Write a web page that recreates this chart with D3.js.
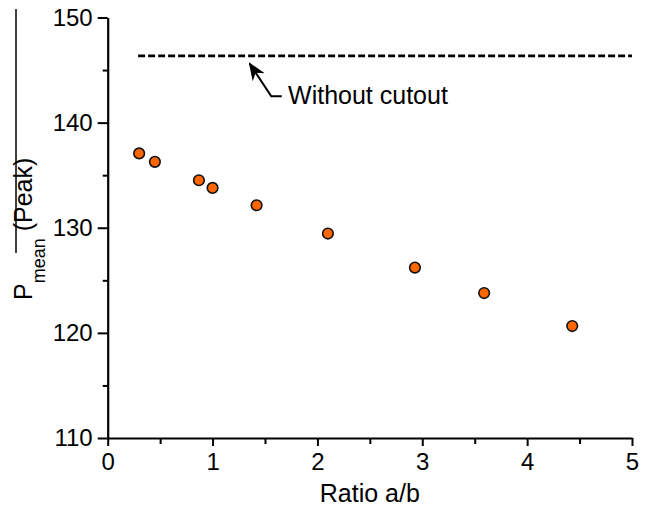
<!DOCTYPE html>
<html>
<head>
<meta charset="utf-8">
<script src="https://cdn.jsdelivr.net/npm/d3@7"></script>
<style>
  body { margin: 0; background: #fff; }
  svg text { font-family: "Liberation Sans", Arial, sans-serif; fill: #000; }
</style>
</head>
<body>
<div id="chart"></div>
<script>
// values
const ratio = [0.3, 0.45, 0.87, 1.0, 1.42, 2.1, 2.93, 3.59, 4.43];
const pMean = [137.07, 136.27, 134.52, 133.79, 132.14, 129.45, 126.21, 123.79, 120.65];
const noCutoutValue = 146.35;
const noCutoutRange = [0.29, 5];
const xTicks = [0, 1, 2, 3, 4, 5];
const xMinorTicks = [0.5, 1.5, 2.5, 3.5, 4.5];
const yTicks = [110, 120, 130, 140, 150];
const yMinorTicks = [115, 125, 135, 145];
const noteLabel = "Without cutout";
// arrow: tip, elbow, tail (data units)
const arrowPts = [[1.355, 145.6], [1.56, 142.5], [1.66, 142.5]];
const notePos = [1.72, 141.8];

const W = 654, H = 506;
const margin = { top: 17.5, right: 22, bottom: 68, left: 107.7 };
const width = W - margin.left - margin.right,
  height = H - margin.top - margin.bottom;

const svg = d3.select("#chart").append("svg")
  .attr("width", W).attr("height", H);

const g = svg.append("g")
  .attr("transform", "translate(" + margin.left + "," + margin.top + ")");

const x = d3.scaleLinear().domain([0, 5]).range([0, width]);
const y = d3.scaleLinear().domain([110, 150]).range([height, 0]);

// minor ticks first, then main axes on top
g.append("g")
  .attr("transform", "translate(0," + height + ")")
  .call(d3.axisBottom(x).tickValues(xMinorTicks).tickSize(6).tickFormat(""))
  .call(a => a.select(".domain").remove())
  .call(a => a.selectAll("line").attr("stroke-width", 2));
g.append("g")
  .call(d3.axisLeft(y).tickValues(yMinorTicks).tickSize(5).tickFormat(""))
  .call(a => a.select(".domain").remove())
  .call(a => a.selectAll("line").attr("stroke-width", 2));

const xAxis = g.append("g")
  .attr("transform", "translate(0," + height + ")")
  .call(d3.axisBottom(x).tickValues(xTicks).tickSize(8).tickSizeOuter(0).tickPadding(7).tickFormat(d3.format("d")));
const yAxis = g.append("g")
  .call(d3.axisLeft(y).tickValues(yTicks).tickSize(10).tickSizeOuter(0).tickPadding(5));

[xAxis, yAxis].forEach(a => {
  a.select(".domain").attr("stroke-width", 2.2);
  a.selectAll("line").attr("stroke-width", 2);
  a.selectAll("text").style("font-size", "24px")
    .style("font-family", "'Liberation Sans', Arial, sans-serif");
});

// dashed reference line
g.append("line")
  .attr("x1", x(noCutoutRange[0])).attr("x2", x(noCutoutRange[1]))
  .attr("y1", y(noCutoutValue)).attr("y2", y(noCutoutValue))
  .attr("stroke", "#000").attr("stroke-width", 2.6)
  .attr("stroke-dasharray", "7,3");

// arrow annotation
svg.append("defs").append("marker")
  .attr("id", "arrowhead")
  .attr("viewBox", "0 0 10 10").attr("refX", 9).attr("refY", 5)
  .attr("markerWidth", 9).attr("markerHeight", 9)
  .attr("orient", "auto-start-reverse")
  .append("path").attr("d", "M0,1 L10,5 L0,9 L3,5 Z").attr("fill", "#000");

g.append("path")
  .attr("d", d3.line().x(d => x(d[0])).y(d => y(d[1]))(arrowPts))
  .attr("fill", "none").attr("stroke", "#000").attr("stroke-width", 2)
  .attr("marker-start", "url(#arrowhead)");

g.append("text")
  .attr("x", x(notePos[0])).attr("y", y(notePos[1]))
  .style("font-size", "25px")
  .text(noteLabel);

// points
g.selectAll("circle.pt")
  .data(ratio.map((r, i) => ({ r: r, p: pMean[i] })))
  .enter().append("circle")
  .attr("class", "pt")
  .attr("cx", d => x(d.r)).attr("cy", d => y(d.p))
  .attr("r", 5.3)
  .attr("fill", "#ff6600").attr("stroke", "#111").attr("stroke-width", 1.6);

// axis titles
svg.append("text")
  .attr("x", margin.left + width / 2).attr("y", 502)
  .attr("text-anchor", "middle")
  .style("font-size", "25px")
  .text("Ratio a/b");

const yt = svg.append("text")
  .attr("transform", "translate(32,300) rotate(-90)")
  .style("font-size", "25px");
yt.append("tspan").text("P");
yt.append("tspan").attr("dy", 13).style("font-size", "18px").text("mean");
yt.append("tspan").attr("dy", -13).text(" (Peak)");

svg.append("line")
  .attr("x1", 16).attr("x2", 16).attr("y1", 9).attr("y2", 253)
  .attr("stroke", "#000").attr("stroke-width", 1.5);
</script>
</body>
</html>
